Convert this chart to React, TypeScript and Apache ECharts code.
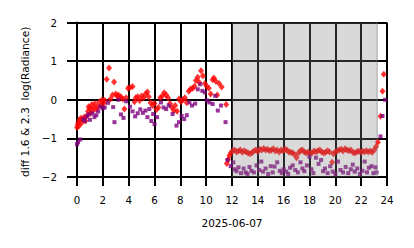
import React, { useEffect, useRef } from "react";
import * as echarts from "echarts";

// Red diamonds: hour of day, diff value
const redHours = [
  0.0, 0.05, 0.1, 0.15, 0.2, 0.3, 0.35, 0.45, 0.55, 0.65, 0.75, 0.85, 0.9, 1.0, 1.05, 1.15, 1.2, 1.3, 1.4, 1.5,
  1.6, 1.75, 1.85, 1.95, 2.05, 2.15, 2.3, 2.48, 2.6, 2.75, 2.87, 3.0, 3.1, 3.2, 3.3, 3.4, 3.55, 3.67, 3.8, 3.95,
  4.1, 4.3, 4.45, 4.55, 4.7, 4.85, 5.0, 5.15, 5.3, 5.45, 5.55, 5.7, 5.85, 6.0, 6.15, 6.3, 6.45, 6.6, 6.75, 6.9,
  7.05, 7.2, 7.35, 7.5, 7.6, 7.75, 7.9, 8.05, 8.2, 8.35, 8.5, 8.65, 8.8, 8.95, 9.1, 9.2, 9.35, 9.45, 9.6, 9.75,
  9.9, 10.05, 10.2, 10.35, 10.5, 10.6, 10.75, 10.85, 11.0, 11.2, 11.55, 11.6, 11.7, 11.8, 11.9,
  12.05, 12.2, 12.35, 12.5, 12.65, 12.8, 12.95, 13.1, 13.25, 13.4, 13.55, 13.7, 13.85, 14.0, 14.15, 14.3, 14.45,
  14.6, 14.75, 14.9, 15.05, 15.2, 15.35, 15.5, 15.65, 15.8, 15.95, 16.1, 16.25, 16.4, 16.55, 16.7, 16.85, 17.0,
  17.15, 17.3, 17.45, 17.6, 17.75, 17.9, 18.05, 18.2, 18.35, 18.5, 18.65, 18.8, 18.95, 19.1, 19.25, 19.4, 19.55,
  19.75, 19.85, 20.0, 20.15, 20.3, 20.45, 20.6, 20.75, 20.9, 21.05, 21.2, 21.35, 21.5, 21.65, 21.8, 21.95, 22.1,
  22.25, 22.4, 22.55, 22.7, 22.85, 23.0, 23.15, 23.3, 23.5, 23.65, 23.75,
];
const redValues = [
  -0.72, -0.65, -0.58, -0.68, -0.52, -0.48, -0.6, -0.5, -0.45, -0.55, -0.42, -0.3, -0.18, -0.22, -0.35, -0.12, -0.28, -0.2, -0.1, -0.25,
  -0.18, -0.05, -0.15, 0.0, -0.1, -0.02, 0.53, 0.82, 0.02, 0.12, 0.46, 0.15, 0.1, 0.12, 0.05, 0.08, 0.02, -0.24, 0.05, 0.3,
  0.32, 0.34, -0.05, 0.05, 0.08, -0.02, 0.1, 0.05, 0.15, 0.2, 0.08, -0.08, -0.15, -0.1, -0.25, -0.2, 0.05, 0.1, 0.18, 0.12,
  0.05, -0.1, -0.2, -0.28, -0.15, -0.3, 0.02, -0.05, 0.0, 0.05, -0.08, 0.22, 0.28, 0.3, 0.35, 0.5, 0.58, 0.45, 0.75, 0.62,
  0.42, 0.35, 0.3, 0.15, 0.52, 0.56, 0.48, 0.12, 0.42, 0.33, -0.12, -1.65, -1.55, -1.45, -1.38,
  -1.32, -1.3, -1.35, -1.33, -1.3, -1.36, -1.32, -1.35, -1.38, -1.4, -1.37, -1.33, -1.3, -1.34, -1.28, -1.3, -1.26,
  -1.3, -1.28, -1.32, -1.3, -1.27, -1.33, -1.3, -1.35, -1.3, -1.32, -1.28, -1.3, -1.35, -1.36, -1.38, -1.42, -1.5,
  -1.38, -1.32, -1.3, -1.35, -1.38, -1.35, -1.4, -1.37, -1.33, -1.35, -1.32, -1.3, -1.35, -1.38, -1.36, -1.32, -1.35,
  -1.62, -1.4, -1.35, -1.32, -1.3, -1.28, -1.33, -1.27, -1.3, -1.32, -1.3, -1.36, -1.38, -1.35, -1.33, -1.36, -1.33,
  -1.35, -1.32, -1.35, -1.33, -1.36, -1.3, -1.22, -1.1, -0.43, 0.22, 0.66,
];

// Purple squares: hour of day, diff value
const purpleHours = [
  0.0, 0.08, 0.25, 0.5, 0.6, 0.75, 0.9, 1.0, 1.2, 1.35, 1.5, 1.65, 1.8, 2.0, 2.15, 2.4, 2.8, 2.9, 3.2, 3.4,
  3.6, 3.8, 4.1, 4.3, 4.5, 4.7, 4.9, 5.1, 5.3, 5.45, 5.6, 5.75, 5.9, 6.0, 6.2, 6.5, 6.7, 6.9, 7.1, 7.4,
  7.7, 7.9, 8.1, 8.3, 8.5, 8.7, 8.9, 9.15, 9.35, 9.55, 9.7, 9.9, 10.05, 10.25, 10.5, 10.7, 10.9, 11.15, 11.5,
  11.65, 11.9, 12.1, 12.2, 12.35, 12.5, 12.7, 12.9, 13.05, 13.2, 13.35, 13.5, 13.7, 13.9, 14.1, 14.27, 14.4,
  14.6, 14.8, 15.0, 15.15, 15.3, 15.5, 15.7, 15.85, 16.0, 16.2, 16.35, 16.5, 16.7, 16.9, 17.1, 17.3, 17.45,
  17.6, 17.8, 18.0, 18.15, 18.3, 18.5, 18.7, 18.9, 19.05, 19.2, 19.4, 19.6, 19.8, 20.0, 20.2, 20.4, 20.6,
  20.8, 21.0, 21.2, 21.35, 21.5, 21.7, 21.9, 22.1, 22.27, 22.45, 22.6, 22.8, 22.95, 23.1, 23.2, 23.5, 23.65, 23.85,
];
const purpleValues = [
  -1.15, -1.1, -1.03, -0.5, -0.55, -0.43, -0.38, -0.52, -0.35, -0.45, -0.4, -0.3, -0.18, -0.22, -0.2, -0.08, -0.19, -0.58, 0.0, -0.38,
  -0.47, -0.04, -0.18, -0.3, -0.43, -0.35, -0.25, -0.34, -0.28, -0.45, -0.24, -0.55, -0.37, -0.63, -0.45, -0.07, -0.2, -0.24, -0.15, -0.37,
  -0.67, -0.58, -0.42, -0.5, -0.4, -0.07, -0.15, -0.1, 0.27, 0.4, 0.23, 0.19, -0.02, -0.07, -0.11, 0.1, -0.28, -0.15, -0.58,
  -1.56, -1.72, -1.62, -1.8, -1.85, -1.75, -1.9, -1.78, -1.88, -1.92, -1.74, -1.84, -1.88, -1.7, -1.82, -1.6, -1.86,
  -1.78, -1.92, -1.72, -1.88, -1.73, -1.62, -1.84, -1.9, -1.8, -1.86, -1.92, -1.76, -1.7, -1.82, -1.88, -1.62, -1.78,
  -1.85, -1.7, -1.48, -1.8, -1.9, -1.5, -1.66, -1.56, -1.85, -1.78, -1.9, -1.72, -1.86, -1.92, -1.6, -1.82, -1.88,
  -1.74, -1.9, -1.8, -1.68, -1.86, -1.78, -1.92, -1.84, -1.6, -1.88, -1.76, -1.72, -1.9, -1.75, -1.88, -0.95, -0.42, 0.0,
];

// Shaded night intervals (hours)
const shadeSpans = [
  [12, 23.3],
  [23.17, 23.3],
];

const xTicks = { min: 0, max: 24, interval: 2 };
const yTicks = { min: -2, max: 2, interval: 1 };
const xAxisTitle = "2025-06-07";
const yAxisTitle = "diff 1.6 & 2.3  log(Radiance)";

// Grey shading (alpha 0.3) is drawn over the markers in the original,
// so markers inside a shaded span take the blended colour.
const SHADE_RGB = [128, 128, 128];
const SHADE_ALPHA = 0.3;
function shadedColor(rgb: number[], h: number): string {
  let c = rgb.slice();
  for (const s of shadeSpans) {
    if (h >= s[0] && h < s[1]) {
      c = c.map((v, i) => v * (1 - SHADE_ALPHA) + SHADE_RGB[i] * SHADE_ALPHA);
    }
  }
  return `rgb(${c.map((v) => Math.round(v)).join(",")})`;
}

export default function App() {
  const ref = useRef<HTMLDivElement>(null);
  useEffect(() => {
    if (!ref.current) return;
    const chart = echarts.init(ref.current, undefined, { renderer: "svg" });
    const font = "DejaVu Sans";
    const redData = redHours.map((h, i) => ({
      value: [h, redValues[i]],
      itemStyle: { color: shadedColor([255, 0, 0], h) },
    }));
    const purpleData = purpleHours.map((h, i) => ({
      value: [h, purpleValues[i]],
      itemStyle: { color: shadedColor([128, 0, 128], h) },
    }));
    chart.setOption({
      animation: false,
      grid: { left: 77, right: 27, top: 22.5, bottom: 71 },
      xAxis: {
        type: "value",
        min: xTicks.min,
        max: xTicks.max,
        interval: xTicks.interval,
        name: xAxisTitle,
        nameLocation: "middle",
        nameGap: 40,
        nameTextStyle: { fontFamily: font, fontSize: 10.5, color: "#000" },
        axisLine: { show: true, onZero: false, lineStyle: { color: "#000", width: 2 } },
        axisTick: { show: true, length: 9, lineStyle: { color: "#000", width: 2 } },
        axisLabel: { margin: 18, fontFamily: font, fontSize: 10.3, color: "#000" },
        splitLine: { show: true, lineStyle: { color: "#000", width: 2 } },
      },
      yAxis: {
        type: "value",
        min: yTicks.min,
        max: yTicks.max,
        interval: yTicks.interval,
        name: yAxisTitle,
        nameLocation: "middle",
        nameGap: 45,
        nameRotate: 90,
        nameTextStyle: { fontFamily: font, fontSize: 10.7, color: "#000", padding: [0, 4, 0, 0] },
        axisLine: { show: true, onZero: false, lineStyle: { color: "#000", width: 2 } },
        axisTick: { show: true, length: 10, lineStyle: { color: "#000", width: 2 } },
        axisLabel: {
          margin: 20,
          fontFamily: font,
          fontSize: 10.3,
          color: "#000",
          formatter: (v: number) => String(v).replace("-", "\u2212"),
        },
        splitLine: { show: true, lineStyle: { color: "#000", width: 2 } },
      },
      series: [
        {
          type: "scatter",
          data: [],
          z: 1,
          silent: true,
          markArea: {
            silent: true,
            z: 1,
            itemStyle: { color: "rgba(128,128,128,0.3)" },
            data: shadeSpans.map((s) => [{ xAxis: s[0] }, { xAxis: s[1] }]),
          },
        },
        {
          type: "scatter",
          data: redData,
          symbol: "diamond",
          symbolSize: [6, 7],
          z: 2,
        },
        {
          type: "scatter",
          data: purpleData,
          symbol: "rect",
          symbolSize: 4,
          z: 3,
        },
      ],
    });
    return () => chart.dispose();
  }, []);
  return (
    <div
      ref={ref}
      style={{ position: "fixed", left: 0, top: 0, width: 414, height: 248, background: "#fff" }}
    />
  );
}
